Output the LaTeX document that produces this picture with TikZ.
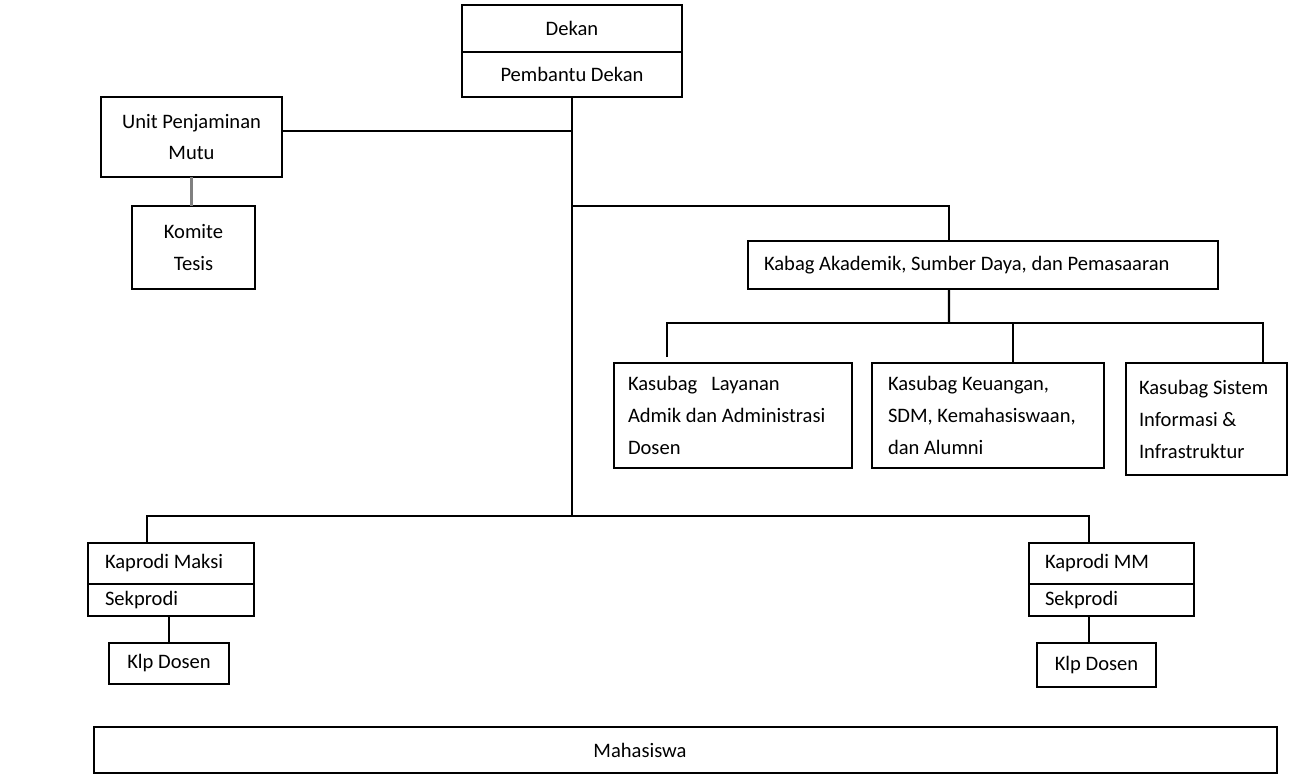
\documentclass[tikz,border=0pt]{standalone}
\usepackage{fontspec}
\setmainfont{Carlito}
\usetikzlibrary{positioning}
\begin{document}
\begin{tikzpicture}[x=0.2mm,y=-0.2mm,line width=1.2pt,font=\fontsize{11.7}{18.2}\selectfont,
	box/.style={draw,rectangle,outer sep=0pt,inner sep=0pt,align=center},
	lbox/.style={box,align=flush left,inner xsep=#1},
	lbox/.default=3.2mm]
	\useasboundingbox (0,0) rectangle (1289,774);
	\node[box,minimum width=44mm,minimum height=9.4mm] (dekan) at (572,28.5) {Dekan};
	\node[box,minimum width=44mm,minimum height=9mm,below=0pt of dekan] (pd) {Pembantu Dekan};
	\node[box,minimum width=36.2mm,minimum height=16mm] (upm) at (191.5,137) {Unit Penjaminan\\Mutu};
	\node[box,minimum width=24.6mm,minimum height=16.6mm] (komite) at (193.5,247.5) {Komite\\Tesis};
	\node[lbox,text width=87.6mm,minimum height=9.6mm] (kabag) at (983,265) {Kabag Akademik, Sumber Daya, dan Pemasaaran};
	\node[lbox=2.8mm,text width=42mm,minimum height=21mm] (k1) at (733,415.5) {Kasubag\ \ \ Layanan\\Admik dan Administrasi\\Dosen};
	\node[lbox,text width=40mm,minimum height=21mm] (k2) at (988,415.5) {Kasubag Keuangan,\\SDM, Kemahasiswaan,\\dan Alumni};
	\node[lbox=2.6mm,text width=27mm,minimum height=22.4mm] (k3) at (1206.5,419) {Kasubag Sistem\\Informasi \&\\Infrastruktur};
	\node[lbox=3.4mm,text width=26.4mm,minimum height=8.2mm] (maksi) at (171,563.5) {Kaprodi Maksi};
	\node[lbox=3.4mm,text width=26.4mm,minimum height=6.4mm,below=0pt of maksi] (sekL) {Sekprodi};
	\node[lbox,text width=26.6mm,minimum height=8.2mm] (kpmm) at (1111.5,563.5) {Kaprodi MM};
	\node[lbox,text width=26.6mm,minimum height=6.4mm,below=0pt of kpmm] (sekR) {Sekprodi};
	\node[box,minimum width=24mm,minimum height=8.2mm] (klpL) at (169,663.5) {Klp Dosen};
	\node[box,minimum width=23.8mm,minimum height=8.8mm] (klpR) at (1096.5,665) {Klp Dosen};
	\node[box,minimum width=236.6mm,minimum height=9.2mm,label={[xshift=-9.1mm]center:Mahasiswa}] (mhs) at (685.5,750) {};
	\coordinate (hub) at (572,516);
	\coordinate (j1) at (572,131);
	\coordinate (j2) at (572,206);
	\coordinate (bar) at (949,323);
	\draw (pd.south) -- (hub);
	\draw (upm.east |- j1) -- (j1);
	\draw[gray] (upm.south) -- (upm.south |- komite.north);
	\draw (j2) -| ([xshift=-6.8mm]kabag.north);
	\draw ([xshift=-6.8mm]kabag.south) -- (bar);
	\draw[shorten <=1.2mm] ([xshift=-13.2mm]k1.north) |- (bar) -| ([xshift=11.3mm]k3.north);
	\draw ([xshift=5mm]k2.north) -- ([xshift=5mm]k2.north |- bar);
	\draw ([xshift=-4.8mm]maksi.north) |- (hub) -| ([xshift=-4.5mm]kpmm.north);
	\draw (klpL.north) -- (klpL.north |- sekL.south);
	\draw ([xshift=-1.5mm]klpR.north) -- ([xshift=-1.5mm]klpR.north |- sekR.south);
\end{tikzpicture}
\end{document}
